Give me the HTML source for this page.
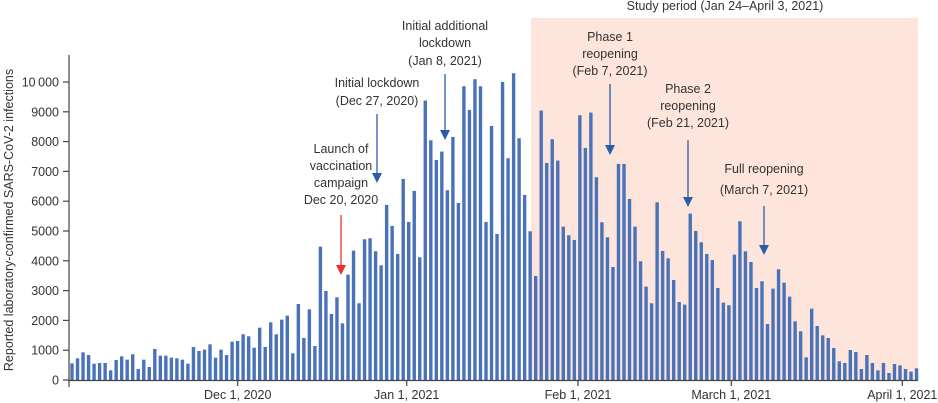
<!DOCTYPE html>
<html><head><meta charset="utf-8"><style>
html,body{margin:0;padding:0;background:#fff;}
svg{display:block;font-family:"Liberation Sans",sans-serif;}
text{fill:#333;font-size:12.5px;}
</style></head><body>
<svg id="s" width="938" height="403" viewBox="0 0 938 403" xmlns="http://www.w3.org/2000/svg">
<rect x="531" y="18" width="387" height="362" fill="#fde5db"/>
<text x="725" y="10" text-anchor="middle">Study period (Jan 24–April 3, 2021)</text>
<g id="bars" fill="#4a72b8"></g>
<line x1="69" y1="55" x2="69" y2="381" stroke="#444" stroke-width="1.2"/>
<line x1="68" y1="380.5" x2="918" y2="380.5" stroke="#444" stroke-width="1.2"/>
<g id="yt"></g>
<g id="xt"></g>
<text transform="translate(13,220) rotate(-90)" text-anchor="middle" style="font-size:12.5px">Reported laboratory-confirmed SARS-CoV-2 infections</text>
<g text-anchor="middle">
<text x="341" y="153">Launch of</text><text x="341" y="170">vaccination</text><text x="341" y="187">campaign</text><text x="341" y="204">Dec 20, 2020</text>
<text x="377" y="87">Initial lockdown</text><text x="377" y="105">(Dec 27, 2020)</text>
<text x="445" y="30">Initial additional</text><text x="445" y="47">lockdown</text><text x="445" y="65">(Jan 8, 2021)</text>
<text x="610" y="41">Phase 1</text><text x="610" y="58">reopening</text><text x="610" y="75">(Feb 7, 2021)</text>
<text x="688" y="93">Phase 2</text><text x="688" y="110">reopening</text><text x="688" y="127">(Feb 21, 2021)</text>
<text x="764" y="173">Full reopening</text><text x="764" y="194">(March 7, 2021)</text>
</g>
<g stroke-width="1.3">
<line x1="341" y1="215" x2="341" y2="266" stroke="#e8312f"/><polygon points="336,265 346,265 341,275" fill="#e8312f"/>
<line x1="377" y1="114" x2="377" y2="174" stroke="#2a5caa"/><polygon points="372,173 382,173 377,183" fill="#2a5caa"/>
<line x1="445" y1="74" x2="445" y2="131" stroke="#2a5caa"/><polygon points="440,130 450,130 445,140" fill="#2a5caa"/>
<line x1="610" y1="84" x2="610" y2="146" stroke="#2a5caa"/><polygon points="605,145 615,145 610,155" fill="#2a5caa"/>
<line x1="688" y1="140" x2="688" y2="198" stroke="#2a5caa"/><polygon points="683,197 693,197 688,207" fill="#2a5caa"/>
<line x1="764" y1="206" x2="764" y2="246" stroke="#2a5caa"/><polygon points="759,245 769,245 764,255" fill="#2a5caa"/>
</g>
</svg>
<script>
var v=[560,727,929,839,548,570,570,324,671,794,683,862,369,683,436,1041,817,817,750,727,683,548,1108,974,1018,1197,750,1018,839,1287,1309,1533,1466,1085,1757,1108,1936,1533,2025,2160,895,2551,1410,2372,1141,4476,2988,2216,2775,1902,3536,4342,2574,4722,4756,4319,3849,5875,5170,4230,6748,5304,6345,4118,9377,8046,7385,7665,6367,8157,5942,9858,9064,10093,9858,5304,8527,4901,10004,7441,10295,8113,6210,4991,3491,9042,7285,8079,7363,5147,4856,4700,8885,7788,8974,6804,5293,4789,3793,7251,7251,6076,5147,3984,3133,2574,5964,4331,4084,3357,2618,2529,5584,5002,4621,4230,4028,3088,2596,2507,4207,5326,4319,3961,3088,3312,1880,3066,3715,3267,2797,1969,1634,761,2395,1813,1499,1410,1074,627,571,1007,940,369,839,571,324,571,235,537,492,369,280,392];
var NS="http://www.w3.org/2000/svg";
function el(t,a,p){var e=document.createElementNS(NS,t);for(var k in a)e.setAttribute(k,a[k]);p.appendChild(e);return e;}
var b=document.getElementById('bars');
function X(i){return 72+(i-1)*5.52;}
for(var i=0;i<v.length;i++){var h=v[i]*0.0298;el('rect',{x:(X(i+1)-1.7).toFixed(2),y:(380-h).toFixed(2),width:3.4,height:h.toFixed(2)},b);}
var yt=document.getElementById('yt');
for(var k=0;k<=10;k++){var y=380-k*29.8;el('line',{x1:63,y1:y,x2:69,y2:y,stroke:'#444','stroke-width':1.2},yt);
var t=el('text',{x:59,y:y+4.5,'text-anchor':'end'},yt);t.textContent=k==10?'10\u2009000':(k*1000)+'';}
var xt=document.getElementById('xt');
var ticks=[[237.7,'Dec 1, 2020'],[406.7,'Jan 1, 2021'],[578,'Feb 1, 2021'],[731.3,'March 1, 2021'],[902.3,'April 1, 2021']];
el('line',{x1:69,y1:380,x2:69,y2:387,stroke:'#444','stroke-width':1.2},xt);
ticks.forEach(function(d){var x=d[0];el('line',{x1:x,y1:380,x2:x,y2:386,stroke:'#444','stroke-width':1.2},xt);
var t=el('text',{x:x,y:399,'text-anchor':'middle'},xt);t.textContent=d[1];});
</script>
</body></html>
